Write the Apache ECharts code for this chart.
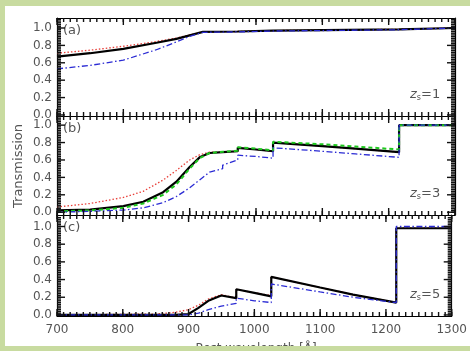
<!DOCTYPE html>
<html>
<head>
<meta charset="utf-8">
<script src="https://cdn.jsdelivr.net/npm/echarts@6/dist/echarts.min.js"></script>
<style>
  html, body { margin: 0; padding: 0; background: #fff; }
  #chart { width: 470px; height: 351px; }
</style>
</head>
<body>
<div id="chart"></div>
<script>
// panel (a) z_s = 1
var waveA  = [700, 750, 800, 850, 880, 900, 920, 972.5, 972.5, 1025.7, 1025.7, 1215.7, 1215.7, 1300];
var blackA = [0.67, 0.71, 0.76, 0.83, 0.875, 0.915, 0.955, 0.96, 0.965, 0.97, 0.985, 0.985, 1.0, 1.0];
var redA   = [0.71, 0.745, 0.79, 0.845, 0.885, 0.92, 0.955, 0.96, 0.965, 0.97, 0.985, 0.985, 1.0, 1.0];
var blueA  = [0.53, 0.57, 0.63, 0.75, 0.84, 0.905, 0.95, 0.955, 0.96, 0.965, 0.98, 0.98, 1.0, 1.0];

// panel (b) z_s = 3
var waveB  = [700, 750, 800, 830, 860, 880, 900, 915, 930, 949.7, 949.7, 972.5, 972.5, 1000, 1025.7, 1025.7, 1100, 1150, 1215.7, 1215.7, 1300];
var blackB = [0.02, 0.03, 0.07, 0.12, 0.23, 0.35, 0.52, 0.63, 0.68, 0.69, 0.71, 0.70, 0.74, 0.72, 0.70, 0.80, 0.76, 0.73, 0.69, 1.0, 1.0];
var greenB = [0.01, 0.02, 0.05, 0.10, 0.20, 0.32, 0.50, 0.62, 0.68, 0.695, 0.71, 0.705, 0.745, 0.73, 0.71, 0.81, 0.78, 0.755, 0.72, 1.0, 1.0];
var redB   = [0.06, 0.10, 0.17, 0.24, 0.37, 0.48, 0.60, 0.66, 0.69, 0.69, 0.71, 0.70, 0.74, 0.72, 0.70, 0.80, 0.76, 0.73, 0.69, 1.0, 1.0];
var blueB  = [0.0, 0.01, 0.025, 0.05, 0.11, 0.18, 0.28, 0.37, 0.46, 0.50, 0.54, 0.60, 0.655, 0.64, 0.62, 0.74, 0.70, 0.67, 0.63, 1.0, 1.0];

// panel (c) z_s = 5
var waveC  = [700, 850, 880, 900, 915, 930, 949.7, 949.7, 972.5, 972.5, 1000, 1025.7, 1025.7, 1100, 1150, 1215.7, 1215.7, 1300];
var blackC = [0, 0, 0, 0.01, 0.08, 0.16, 0.22, 0.24, 0.19, 0.29, 0.25, 0.21, 0.43, 0.31, 0.23, 0.14, 0.98, 0.98];
var redC   = [0, 0.01, 0.03, 0.06, 0.11, 0.18, 0.23, 0.24, 0.19, 0.29, 0.25, 0.22, 0.43, 0.31, 0.23, 0.14, 0.98, 0.98];
var blueC  = [0, 0, 0, 0, 0.02, 0.06, 0.10, 0.12, 0.13, 0.19, 0.16, 0.14, 0.35, 0.26, 0.20, 0.14, 1.0, 1.0];

var xTicks = [700, 800, 900, 1000, 1100, 1200, 1300];
var yTicks = [0, 0.2, 0.4, 0.6, 0.8, 1.0];
var panelTags = ['(a)', '(b)', '(c)'];
var panelZ = ['1', '3', '5'];

var xMinorTicks = [];
for (var k = 700; k <= 1300; k += 10) xMinorTicks.push(k);
var yMinorTicks = [];
for (var t = 0; t <= 55; t++) yMinorTicks.push(+(t * 0.02).toFixed(2));

function pairs(xs, ys) {
    return xs.map(function (x, i) { return [x, ys[i]]; });
}

var chart = echarts.init(document.getElementById('chart'));

var FONT = 'DejaVu Sans';
var TXT = '#555';
var tops = [18, 116, 215];
var heights = [98, 99, 101];
var yMin = [-0.012, -0.032, -0.012];
var yMax = [1.115, 1.105, 1.13];

var grids = [], xAxes = [], yAxes = [];
for (var g = 0; g < 3; g++) {
    grids.push({ left: 57, right: 15, top: tops[g], height: heights[g] });
    ['bottom', 'top'].forEach(function (pos) {
        xAxes.push({
            gridIndex: g, type: 'value', position: pos,
            min: 700, max: 1300, interval: 100,
            axisLine: { show: true, onZero: false, lineStyle: { color: '#000', width: 1.2 } },
            axisTick: { show: false },
            axisLabel: {
                show: pos === 'bottom' && g === 2, margin: 8,
                fontFamily: FONT, fontSize: 12, color: TXT,
                formatter: function (v) { return String(v); }
            },
            splitLine: { show: false }
        });
    });
    ['left', 'right'].forEach(function (pos) {
        yAxes.push({
            gridIndex: g, type: 'value', position: pos,
            min: yMin[g], max: yMax[g],
            axisLine: { show: true, onZero: false, lineStyle: { color: '#000', width: 1.2 } },
            axisTick: { show: false },
            axisLabel: {
                show: pos === 'left', customValues: yTicks, margin: 5,
                fontFamily: FONT, fontSize: 12, color: TXT,
                formatter: function (v) { return v.toFixed(1); }
            },
            splitLine: { show: false }
        });
    });
}

// inward tick marks on all four sides, placed through the axes' scales
function tickData(g) {
    var d = [];
    xTicks.forEach(function (v) { d.push([v, 0.5, 0]); });
    xMinorTicks.forEach(function (v) { d.push([v, 0.5, 1]); });
    yTicks.forEach(function (v) { d.push([1000, v, 2]); });
    yMinorTicks.forEach(function (v) { if (v < yMax[g]) d.push([1000, v, 3]); });
    return d;
}

function tickSeries(g) {
    return {
        type: 'custom', xAxisIndex: g * 2, yAxisIndex: g * 2,
        data: tickData(g), clip: false, silent: true, z: 10,
        renderItem: function (params, api) {
            var cs = params.coordSys;
            var kind = api.value(2);
            var st = { stroke: '#111', lineWidth: 1.4 };
            if (kind < 2) {
                var len = kind === 0 ? 7 : 4;
                var px = api.coord([api.value(0), 0.5])[0];
                var yb = cs.y + cs.height, yt = cs.y;
                return { type: 'group', children: [
                    { type: 'line', shape: { x1: px, y1: yb, x2: px, y2: yb - len }, style: st },
                    { type: 'line', shape: { x1: px, y1: yt, x2: px, y2: yt + len }, style: st }
                ] };
            }
            var len2 = kind === 2 ? 8 : 4;
            var py = api.coord([1000, api.value(1)])[1];
            var xl = cs.x, xr = cs.x + cs.width;
            return { type: 'group', children: [
                { type: 'line', shape: { x1: xl, y1: py, x2: xl + len2, y2: py }, style: st },
                { type: 'line', shape: { x1: xr, y1: py, x2: xr - len2, y2: py }, style: st }
            ] };
        },
        animation: false
    };
}

function line(g, xs, ys, color, width, type, z) {
    return {
        type: 'line', xAxisIndex: g * 2, yAxisIndex: g * 2,
        data: pairs(xs, ys), showSymbol: false, symbol: 'none',
        lineStyle: { color: color, width: width, type: type },
        animation: false, z: z
    };
}

var RED = '#e8403a', BLUE = '#2b2bd4', GREEN = '#1ec81e';
var DOT = [1.5, 2], DASHDOT = [6, 2.5, 1.5, 2.5], DASH = [4, 3];

var series = [
    line(0, waveA, redA, RED, 1.3, DOT, 2),
    line(0, waveA, blackA, '#000', 2.2, 'solid', 3),
    line(0, waveA, blueA, BLUE, 1.3, DASHDOT, 4),

    line(1, waveB, redB, RED, 1.3, DOT, 2),
    line(1, waveB, blackB, '#000', 2.2, 'solid', 3),
    line(1, waveB, greenB, GREEN, 2, DASH, 4),
    line(1, waveB, blueB, BLUE, 1.3, DASHDOT, 5),

    line(2, waveC, redC, RED, 1.3, DOT, 2),
    line(2, waveC, blackC, '#000', 2.2, 'solid', 3),
    line(2, waveC, blueC, BLUE, 1.3, DASHDOT, 4),

    tickSeries(0), tickSeries(1), tickSeries(2)
];

var graphics = [];
for (var p = 0; p < 3; p++) {
    graphics.push({
        type: 'text', left: 63, top: tops[p] + 6,
        style: { text: panelTags[p], font: '13px ' + FONT, fill: TXT }
    });
    graphics.push({
        type: 'text', left: 410, top: tops[p] + heights[p] - 28,
        style: {
            text: '{z|z}{s|s}{e|=' + panelZ[p] + '}',
            rich: {
                z: { font: 'italic 13px ' + FONT, fill: TXT },
                s: { font: '8px ' + FONT, fill: TXT, verticalAlign: 'bottom', padding: [6, 0, 0, 0] },
                e: { font: '13px ' + FONT, fill: TXT }
            }
        }
    });
}
graphics.push({
    type: 'text', x: 19, y: 166, rotation: Math.PI / 2,
    style: { text: 'Transmission', font: '13px ' + FONT, fill: TXT, align: 'center', verticalAlign: 'middle' }
});
graphics.push({
    type: 'text', x: 256, y: 349,
    style: { text: 'Rest wavelength [Å]', font: '12px ' + FONT, fill: TXT, align: 'center', verticalAlign: 'middle' }
});
// green page frame
graphics.push({ type: 'rect', shape: { x: 0, y: 0, width: 5, height: 351 }, style: { fill: '#c8dba0' }, z: 100 });
graphics.push({ type: 'rect', shape: { x: 0, y: 0, width: 470, height: 6 }, style: { fill: '#c8dba0' }, z: 100 });
graphics.push({ type: 'rect', shape: { x: 0, y: 346, width: 470, height: 5 }, style: { fill: '#c8dba0' }, z: 100 });

chart.setOption({
    backgroundColor: '#fff',
    animation: false,
    grid: grids,
    xAxis: xAxes,
    yAxis: yAxes,
    series: series,
    graphic: graphics
});
</script>
</body>
</html>
